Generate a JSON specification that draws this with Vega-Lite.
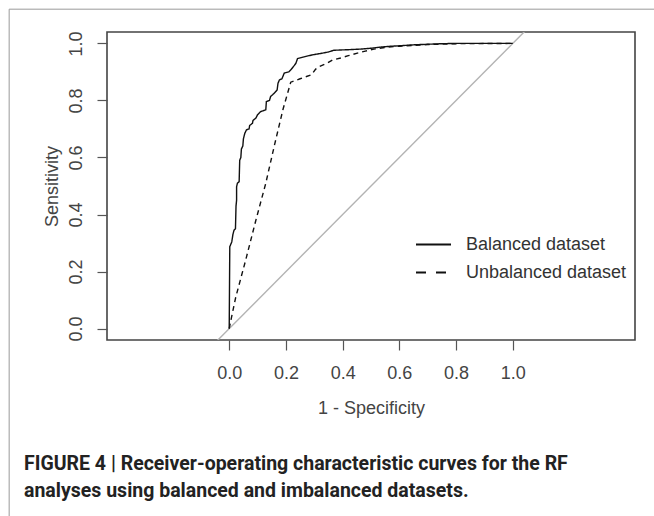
{
  "$schema": "https://vega.github.io/schema/vega-lite/v6.json",
  "autosize": {"type": "none"},
  "width": 528,
  "height": 308,
  "padding": {"left": 107, "top": 32, "right": 19, "bottom": 176},
  "background": "white",
  "config": {
    "view": {"stroke": "#444", "strokeWidth": 1.6},
    "font": "Liberation Sans",
    "axis": {
      "grid": false, "domain": false, "tickColor": "#555", "tickSize": 10, "tickWidth": 1.2,
      "labelFont": "Liberation Sans", "labelFontSize": 18, "labelColor": "#444",
      "titleFont": "Liberation Sans", "titleFontSize": 18, "titleColor": "#444", "titleFontWeight": "normal"
    }
  },
  "title": {
    "text": ["FIGURE 4 | Receiver-operating characteristic curves for the RF", "analyses using balanced and imbalanced datasets."],
    "orient": "bottom", "anchor": "start", "frame": "group", "dx": -83, "offset": -62,
    "font": "Roboto", "fontSize": 19.5, "fontWeight": "bold", "color": "#222",
    "lineHeight": 27, "baseline": "top"
  },
  "resolve": {"scale": {"strokeDash": "independent"}, "legend": {"strokeDash": "independent"}},
  "datasets": {
    "roc": [
      {"i": 1, "series": "Balanced dataset", "fpr": 0.0, "tpr": 0.0},
      {"i": 2, "series": "Balanced dataset", "fpr": 0.002, "tpr": 0.287},
      {"i": 3, "series": "Balanced dataset", "fpr": 0.009, "tpr": 0.304},
      {"i": 4, "series": "Balanced dataset", "fpr": 0.013, "tpr": 0.33},
      {"i": 5, "series": "Balanced dataset", "fpr": 0.017, "tpr": 0.345},
      {"i": 6, "series": "Balanced dataset", "fpr": 0.022, "tpr": 0.35},
      {"i": 7, "series": "Balanced dataset", "fpr": 0.024, "tpr": 0.43},
      {"i": 8, "series": "Balanced dataset", "fpr": 0.026, "tpr": 0.45},
      {"i": 9, "series": "Balanced dataset", "fpr": 0.026, "tpr": 0.4975},
      {"i": 10, "series": "Balanced dataset", "fpr": 0.029, "tpr": 0.51},
      {"i": 11, "series": "Balanced dataset", "fpr": 0.035, "tpr": 0.515},
      {"i": 12, "series": "Balanced dataset", "fpr": 0.037, "tpr": 0.59},
      {"i": 13, "series": "Balanced dataset", "fpr": 0.041, "tpr": 0.6},
      {"i": 14, "series": "Balanced dataset", "fpr": 0.043, "tpr": 0.63},
      {"i": 15, "series": "Balanced dataset", "fpr": 0.048, "tpr": 0.64},
      {"i": 16, "series": "Balanced dataset", "fpr": 0.05, "tpr": 0.665},
      {"i": 17, "series": "Balanced dataset", "fpr": 0.055, "tpr": 0.685},
      {"i": 18, "series": "Balanced dataset", "fpr": 0.061, "tpr": 0.697},
      {"i": 19, "series": "Balanced dataset", "fpr": 0.07, "tpr": 0.7},
      {"i": 20, "series": "Balanced dataset", "fpr": 0.072, "tpr": 0.712},
      {"i": 21, "series": "Balanced dataset", "fpr": 0.082, "tpr": 0.72},
      {"i": 22, "series": "Balanced dataset", "fpr": 0.084, "tpr": 0.73},
      {"i": 23, "series": "Balanced dataset", "fpr": 0.094, "tpr": 0.738},
      {"i": 24, "series": "Balanced dataset", "fpr": 0.1, "tpr": 0.75},
      {"i": 25, "series": "Balanced dataset", "fpr": 0.111, "tpr": 0.761},
      {"i": 26, "series": "Balanced dataset", "fpr": 0.129, "tpr": 0.767},
      {"i": 27, "series": "Balanced dataset", "fpr": 0.131, "tpr": 0.796},
      {"i": 28, "series": "Balanced dataset", "fpr": 0.142, "tpr": 0.8},
      {"i": 29, "series": "Balanced dataset", "fpr": 0.146, "tpr": 0.814},
      {"i": 30, "series": "Balanced dataset", "fpr": 0.153, "tpr": 0.82},
      {"i": 31, "series": "Balanced dataset", "fpr": 0.164, "tpr": 0.831},
      {"i": 32, "series": "Balanced dataset", "fpr": 0.169, "tpr": 0.837},
      {"i": 33, "series": "Balanced dataset", "fpr": 0.172, "tpr": 0.86},
      {"i": 34, "series": "Balanced dataset", "fpr": 0.177, "tpr": 0.872},
      {"i": 35, "series": "Balanced dataset", "fpr": 0.186, "tpr": 0.876},
      {"i": 36, "series": "Balanced dataset", "fpr": 0.194, "tpr": 0.896},
      {"i": 37, "series": "Balanced dataset", "fpr": 0.21, "tpr": 0.9},
      {"i": 38, "series": "Balanced dataset", "fpr": 0.218, "tpr": 0.908},
      {"i": 39, "series": "Balanced dataset", "fpr": 0.229, "tpr": 0.922},
      {"i": 40, "series": "Balanced dataset", "fpr": 0.235, "tpr": 0.93},
      {"i": 41, "series": "Balanced dataset", "fpr": 0.241, "tpr": 0.947},
      {"i": 42, "series": "Balanced dataset", "fpr": 0.26, "tpr": 0.952},
      {"i": 43, "series": "Balanced dataset", "fpr": 0.294, "tpr": 0.96},
      {"i": 44, "series": "Balanced dataset", "fpr": 0.33, "tpr": 0.966},
      {"i": 45, "series": "Balanced dataset", "fpr": 0.35, "tpr": 0.97},
      {"i": 46, "series": "Balanced dataset", "fpr": 0.369, "tpr": 0.976},
      {"i": 47, "series": "Balanced dataset", "fpr": 0.42, "tpr": 0.978},
      {"i": 48, "series": "Balanced dataset", "fpr": 0.463, "tpr": 0.98},
      {"i": 49, "series": "Balanced dataset", "fpr": 0.5, "tpr": 0.983},
      {"i": 50, "series": "Balanced dataset", "fpr": 0.534, "tpr": 0.987},
      {"i": 51, "series": "Balanced dataset", "fpr": 0.57, "tpr": 0.99},
      {"i": 52, "series": "Balanced dataset", "fpr": 0.605, "tpr": 0.992},
      {"i": 53, "series": "Balanced dataset", "fpr": 0.65, "tpr": 0.995},
      {"i": 54, "series": "Balanced dataset", "fpr": 0.7, "tpr": 0.997},
      {"i": 55, "series": "Balanced dataset", "fpr": 0.75, "tpr": 0.999},
      {"i": 56, "series": "Balanced dataset", "fpr": 0.8, "tpr": 1.0},
      {"i": 57, "series": "Balanced dataset", "fpr": 1.0, "tpr": 1.0},
      {"i": 1, "series": "Unbalanced dataset", "fpr": 0.0, "tpr": 0.0},
      {"i": 2, "series": "Unbalanced dataset", "fpr": 0.005, "tpr": 0.025},
      {"i": 3, "series": "Unbalanced dataset", "fpr": 0.023, "tpr": 0.11},
      {"i": 4, "series": "Unbalanced dataset", "fpr": 0.058, "tpr": 0.24},
      {"i": 5, "series": "Unbalanced dataset", "fpr": 0.094, "tpr": 0.38},
      {"i": 6, "series": "Unbalanced dataset", "fpr": 0.129, "tpr": 0.51},
      {"i": 7, "series": "Unbalanced dataset", "fpr": 0.16, "tpr": 0.645},
      {"i": 8, "series": "Unbalanced dataset", "fpr": 0.19, "tpr": 0.77},
      {"i": 9, "series": "Unbalanced dataset", "fpr": 0.217, "tpr": 0.864},
      {"i": 10, "series": "Unbalanced dataset", "fpr": 0.25, "tpr": 0.876},
      {"i": 11, "series": "Unbalanced dataset", "fpr": 0.27, "tpr": 0.883},
      {"i": 12, "series": "Unbalanced dataset", "fpr": 0.29, "tpr": 0.89},
      {"i": 13, "series": "Unbalanced dataset", "fpr": 0.305, "tpr": 0.91},
      {"i": 14, "series": "Unbalanced dataset", "fpr": 0.318, "tpr": 0.919},
      {"i": 15, "series": "Unbalanced dataset", "fpr": 0.346, "tpr": 0.931},
      {"i": 16, "series": "Unbalanced dataset", "fpr": 0.365, "tpr": 0.942},
      {"i": 17, "series": "Unbalanced dataset", "fpr": 0.393, "tpr": 0.949},
      {"i": 18, "series": "Unbalanced dataset", "fpr": 0.42, "tpr": 0.957},
      {"i": 19, "series": "Unbalanced dataset", "fpr": 0.452, "tpr": 0.966},
      {"i": 20, "series": "Unbalanced dataset", "fpr": 0.48, "tpr": 0.973},
      {"i": 21, "series": "Unbalanced dataset", "fpr": 0.51, "tpr": 0.98},
      {"i": 22, "series": "Unbalanced dataset", "fpr": 0.557, "tpr": 0.987},
      {"i": 23, "series": "Unbalanced dataset", "fpr": 0.6, "tpr": 0.99},
      {"i": 24, "series": "Unbalanced dataset", "fpr": 0.65, "tpr": 0.993},
      {"i": 25, "series": "Unbalanced dataset", "fpr": 0.7, "tpr": 0.996},
      {"i": 26, "series": "Unbalanced dataset", "fpr": 0.8, "tpr": 0.999},
      {"i": 27, "series": "Unbalanced dataset", "fpr": 1.0, "tpr": 1.0}
    ],
    "diag": [
      {"fpr": -0.05, "tpr": -0.05},
      {"fpr": 1.1, "tpr": 1.1}
    ]
  },
  "layer": [
    {
      "data": {"name": "diag"},
      "mark": {"type": "line", "color": "#b3b3b3", "strokeWidth": 1.4, "clip": true},
      "encoding": {
        "x": {"field": "fpr", "type": "quantitative"},
        "y": {"field": "tpr", "type": "quantitative"}
      }
    },
    {
      "data": {"name": "roc"},
      "mark": {"type": "line", "color": "#111", "strokeWidth": 1.4, "clip": true},
      "encoding": {
        "x": {
          "field": "fpr", "type": "quantitative",
          "scale": {"domain": [-0.431, 1.431], "nice": false, "zero": false},
          "axis": {"values": [0, 0.2, 0.4, 0.6, 0.8, 1.0], "format": ".1f", "title": "1 - Specificity", "labelPadding": 14, "titlePadding": 17}
        },
        "y": {
          "field": "tpr", "type": "quantitative",
          "scale": {"domain": [-0.04, 1.04], "nice": false, "zero": false},
          "axis": {"values": [0, 0.2, 0.4, 0.6, 0.8, 1.0], "format": ".1f", "title": "Sensitivity", "labelAngle": -90, "labelAlign": "center", "labelBaseline": "bottom", "labelPadding": 12, "titlePadding": 6}
        },
        "detail": {"field": "series"},
        "order": {"field": "i", "type": "quantitative"},
        "strokeDash": {
          "field": "series", "type": "nominal",
          "scale": {"domain": ["Balanced dataset", "Unbalanced dataset"], "range": [[1, 0], [5, 4]]},
          "legend": null
        }
      }
    },
    {
      "data": {"name": "roc"},
      "transform": [{"filter": "datum.i < 0"}],
      "mark": {"type": "line", "color": "#111", "strokeWidth": 2, "clip": true},
      "encoding": {
        "x": {"field": "fpr", "type": "quantitative"},
        "y": {"field": "tpr", "type": "quantitative"},
        "strokeDash": {
          "field": "series", "type": "nominal",
          "scale": {"domain": ["Balanced dataset", "Unbalanced dataset"], "range": [[1, 0], [10, 10]]},
          "legend": {
            "title": null, "orient": "none", "legendX": 308, "legendY": 194,
            "symbolType": "stroke", "symbolSize": 1225, "symbolStrokeWidth": 2, "symbolStrokeColor": "#111",
            "labelFont": "Liberation Sans", "labelFontSize": 18, "labelColor": "#333", "labelOffset": 14,
            "labelLimit": 300, "rowPadding": -6, "padding": 0
          }
        }
      }
    },
    {
      "data": {"values": [{}]},
      "mark": {"type": "rule", "color": "#999", "strokeWidth": 1},
      "encoding": {
        "x": {"datum": -0.776, "type": "quantitative"},
        "y": {"datum": 1.12, "type": "quantitative"},
        "y2": {"datum": -0.66}
      }
    },
    {
      "data": {"values": [{}]},
      "mark": {"type": "rule", "color": "#999", "strokeWidth": 1},
      "encoding": {
        "y": {"datum": 1.12, "type": "quantitative"},
        "x": {"datum": -0.776, "type": "quantitative"},
        "x2": {"datum": 1.6}
      }
    }
  ]
}
